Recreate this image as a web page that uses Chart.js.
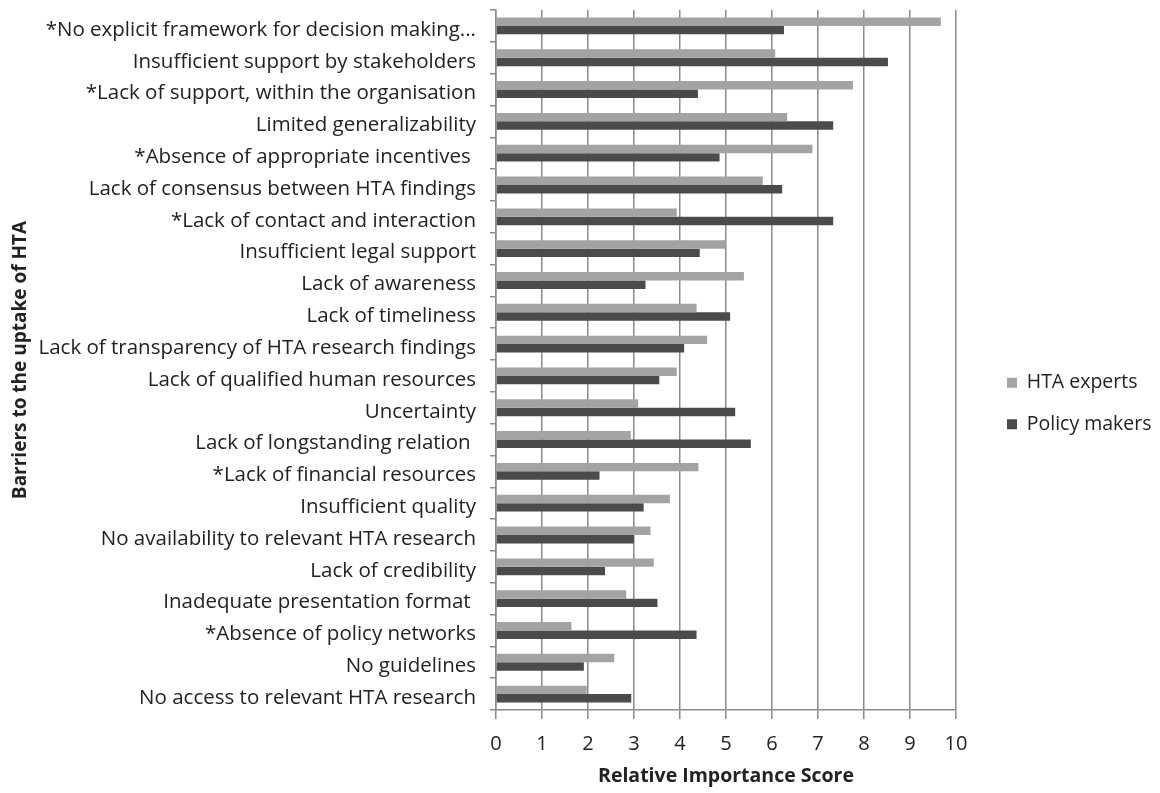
<!DOCTYPE html>
<html>
<head>
<meta charset="utf-8">
<script src="https://cdn.jsdelivr.net/npm/chart.js@4.4.1/dist/chart.umd.min.js"></script>
<style>
  html, body { margin: 0; padding: 0; background: #ffffff; }
  #wrap { width: 1160px; height: 793px; }
</style>
</head>
<body>
<div id="wrap"><canvas id="chart" width="1160" height="793"></canvas></div>
<script>
// Barriers to the uptake of HTA, ranked; asterisk marks a significant difference
const barriers = [
  "*No explicit framework for decision making...",
  "Insufficient support by stakeholders",
  "*Lack of support, within the organisation",
  "Limited generalizability",
  "*Absence of appropriate incentives ",
  "Lack of consensus between HTA findings",
  "*Lack of contact and interaction",
  "Insufficient legal support",
  "Lack of awareness",
  "Lack of timeliness",
  "Lack of transparency of HTA research findings",
  "Lack of qualified human resources",
  "Uncertainty",
  "Lack of longstanding relation ",
  "*Lack of financial resources",
  "Insufficient quality",
  "No availability to relevant HTA research",
  "Lack of credibility",
  "Inadequate presentation format ",
  "*Absence of policy networks",
  "No guidelines",
  "No access to relevant HTA research"
];

// Relative importance scores per respondent group
const htaExperts = [9.67, 6.07, 7.76, 6.33, 6.88, 5.80, 3.93, 4.99, 5.39, 4.36, 4.59,
                    3.93, 3.09, 2.93, 4.40, 3.78, 3.36, 3.43, 2.83, 1.64, 2.57, 1.97];
const policyMakers = [6.26, 8.52, 4.39, 7.33, 4.86, 6.22, 7.33, 4.43, 3.25, 5.09, 4.09,
                      3.55, 5.20, 5.54, 2.25, 3.21, 3.00, 2.37, 3.51, 4.36, 1.91, 2.94];

const scoreTicks = [0, 1, 2, 3, 4, 5, 6, 7, 8, 9, 10];

const seriesNames = ["HTA experts", "Policy makers"];
const lightGrey = "#a3a3a3";
const darkGrey = "#4b4b4b";
const axisGrey = "#8a8a8a";
const textColor = "#222222";
const fontFamily = "'Open Sans', 'DejaVu Sans', sans-serif";

// Keeps the legend clear of the plot and level with its middle
const legendPlacement = {
  id: "legendPlacement",
  beforeInit(chart) {
    const legend = chart.legend;
    const fit = legend.fit;
    legend.fit = function () {
      fit.call(this);
      this.width = 204;
    };
  },
  afterLayout(chart) {
    const lg = chart.legend;
    lg.left += 29; lg.right += 29;
    lg.top += 7; lg.bottom += 7;
  }
};

new Chart(document.getElementById("chart"), {
  type: "bar",
  data: {
    labels: barriers,
    datasets: [
      {
        label: seriesNames[0],
        data: htaExperts,
        backgroundColor: lightGrey,
        borderWidth: 0,
        categoryPercentage: 0.53,
        barPercentage: 1.0
      },
      {
        label: seriesNames[1],
        data: policyMakers,
        backgroundColor: darkGrey,
        borderWidth: 0,
        categoryPercentage: 0.53,
        barPercentage: 1.0
      }
    ]
  },
  options: {
    indexAxis: "y",
    responsive: false,
    animation: false,
    layout: { padding: 0 },
    plugins: {
      legend: {
        position: "right",
        align: "center",
        labels: {
          boxWidth: 10,
          boxHeight: 10,
          padding: 22,
          color: textColor,
          font: { family: fontFamily, size: 19.5 }
        }
      },
      tooltip: { enabled: false }
    },
    scales: {
      x: {
        type: "linear",
        min: 0,
        max: 10,
        afterBuildTicks(scale) {
          scale.ticks = scoreTicks.map(v => ({ value: v }));
        },
        afterFit(scale) { scale.height = 83; },
        grid: {
          color: axisGrey,
          lineWidth: 1.5,
          drawTicks: true,
          tickLength: 9,
          tickColor: axisGrey
        },
        border: { color: axisGrey, width: 1.5 },
        ticks: {
          color: textColor,
          padding: 13,
          font: { family: fontFamily, size: 20 }
        },
        title: {
          display: true,
          text: "Relative Importance Score",
          color: textColor,
          padding: { top: 0, bottom: 5 },
          font: { family: fontFamily, size: 19.5, weight: "bold" }
        }
      },
      y: {
        type: "category",
        afterFit(scale) {
          scale.width = 496;
          scale.paddingTop = 10;
          scale.paddingBottom = 0;
        },
        grid: {
          offset: true,
          drawOnChartArea: false,
          drawTicks: true,
          tickLength: 6,
          tickColor: axisGrey,
          lineWidth: 1.5
        },
        border: { color: axisGrey, width: 1.5 },
        ticks: {
          color: textColor,
          padding: 14,
          labelOffset: 4,
          autoSkip: false,
          font: { family: fontFamily, size: 20.5 }
        },
        title: {
          display: true,
          text: "Barriers to the uptake of HTA",
          color: textColor,
          padding: { top: 9, bottom: 0 },
          font: { family: fontFamily, size: 19, weight: "bold" }
        }
      }
    }
  },
  plugins: [legendPlacement]
});
</script>
</body>
</html>
